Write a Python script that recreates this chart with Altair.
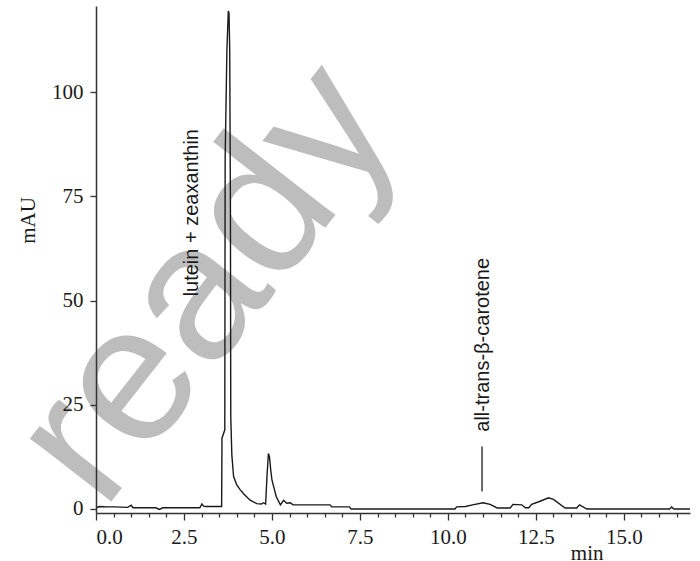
import altair as alt
import pandas as pd

# chromatogram trace (time in min, absorbance in mAU)
times = [0.0, 0.1, 0.3, 0.5, 0.9, 1.0, 1.05, 1.7, 1.8, 1.9, 2.95, 3.01, 3.06, 3.1,
         3.57, 3.58, 3.66, 3.67, 3.72, 3.76, 3.78, 3.80, 3.82, 3.83, 3.86, 3.91,
         4.0, 4.1, 4.2, 4.38, 4.57, 4.7, 4.76, 4.82, 4.86, 4.90, 4.93, 4.97, 5.0,
         5.06, 5.12, 5.24, 5.33, 5.42, 5.52, 5.6, 6.65, 6.7, 7.2, 7.25, 10.2, 10.25,
         10.5, 10.7, 11.0, 11.2, 11.4, 11.77, 11.85, 12.1, 12.2, 12.3, 12.38, 12.6,
         12.86, 13.0, 13.33, 13.66, 13.74, 13.95, 16.3, 16.36, 16.42, 16.88]
mau = [0.3, 0.6, 0.5, 0.5, 0.4, 0.9, 0.3, 0.3, -0.1, 0.3, 0.3, 1.2, 0.7, 0.6,
       0.6, 17, 19, 84, 110, 119.5, 119, 110, 72, 22, 13, 7.8,
       5.8, 4.6, 3.6, 2.1, 1.3, 1.2, 1.5, 1.2, 8, 13.3, 12.5, 9, 7,
       5, 3.0, 1.0, 2.1, 1.4, 1.5, 1.0, 1.0, 0.5, 0.5, 0.0, 0.0, 0.5,
       0.6, 1.0, 1.5, 1.1, 0.25, 0.25, 1.1, 1.0, 0.3, 0.3, 1.1, 1.8,
       2.7, 2.3, 0.25, 0.25, 1.0, 0.0, 0.0, 0.5, 0.0, 0.0]

# peak labels
label_text = ["lutein + zeaxanthin", "all-trans-β-carotene"]
label_x = [2.74, 11.01]
label_y = [71.1, 39.4]

# marker line for beta-carotene
marker_x = [10.97]
marker_y1 = [4.2]
marker_y2 = [15.0]

# axis ticks
x_ticks = [i * 0.5 for i in range(34)]
y_ticks = [0, 25, 50, 75, 100]

# watermark
wm_text = ["ready"]
wm_x = [0.2]
wm_y = [-0.8]

trace = pd.DataFrame({"t": times, "v": mau})
labels = pd.DataFrame({"t": label_x, "v": label_y, "txt": label_text})
marker = pd.DataFrame({"t": marker_x, "v1": marker_y1, "v2": marker_y2})
wm = pd.DataFrame({"t": wm_x, "v": wm_y, "txt": wm_text})

xs = alt.Scale(domain=[0, 16.88], nice=False, zero=False)
ys = alt.Scale(domain=[-0.96, 120.7], nice=False, zero=False)

serif = "Liberation Serif"

x_axis = alt.Axis(
    values=x_ticks,
    labelExpr="datum.value % 2.5 === 0 ? format(datum.value, '.1f') : ''",
    labelOverlap=False,
    tickSize={"condition": {"test": "datum.value % 2.5 === 0", "value": 7}, "value": 4},
    tickColor="#333333", tickWidth=1.3,
    domainColor="#333333", domainWidth=1.5,
    labelFont=serif, labelFontSize=21, labelColor="#1a1a1a", labelPadding=6,
    grid=False, zindex=1,
    title="min", titleFont=serif, titleFontSize=21, titleFontWeight="normal",
    titleColor="#1a1a1a", titleX=490.7, titleY=40, titleAlign="center",
    titleBaseline="middle",
)
y_axis = alt.Axis(
    values=y_ticks,
    tickSize=6, tickColor="#333333", tickWidth=1.3,
    domainColor="#333333", domainWidth=1.5,
    labelFont=serif, labelFontSize=21, labelColor="#1a1a1a", labelPadding=7,
    grid=False, zindex=1,
    title="mAU", titleFont=serif, titleFontSize=21, titleFontWeight="normal",
    titleColor="#1a1a1a", titleX=-68, titleY=214, titleAngle=270,
    titleAlign="center", titleBaseline="middle",
)

watermark = alt.Chart(wm).mark_text(
    font="Liberation Sans", fontSize=195, angle=308, align="left",
    baseline="alphabetic", color="#bdbdbd",
).encode(
    x=alt.X("t:Q", scale=xs, axis=x_axis),
    y=alt.Y("v:Q", scale=ys, axis=y_axis),
    text="txt:N",
)

line = alt.Chart(trace).mark_line(color="#1a1a1a", strokeWidth=1.4).encode(
    x=alt.X("t:Q", scale=xs, axis=x_axis),
    y=alt.Y("v:Q", scale=ys, axis=y_axis),
    order="t:Q",
)

rule = alt.Chart(marker).mark_rule(color="#1a1a1a", strokeWidth=1.3).encode(
    x=alt.X("t:Q", scale=xs, axis=x_axis),
    y=alt.Y("v1:Q", scale=ys, axis=y_axis),
    y2="v2:Q",
)

text = alt.Chart(labels).mark_text(
    font="Liberation Sans", fontSize=20, angle=270, align="center",
    baseline="middle", color="#1a1a1a",
).encode(
    x=alt.X("t:Q", scale=xs, axis=x_axis),
    y=alt.Y("v:Q", scale=ys, axis=y_axis),
    text="txt:N",
)

chart = alt.layer(watermark, line, rule, text).properties(
    width=594, height=507,
    autosize=alt.AutoSizeParams(type="none"),
    padding={"left": 96, "top": 6, "right": 10, "bottom": 48},
    background="white",
).configure_view(stroke=None)

chart.save("out.html", embed_options={"renderer": "svg", "actions": False})
